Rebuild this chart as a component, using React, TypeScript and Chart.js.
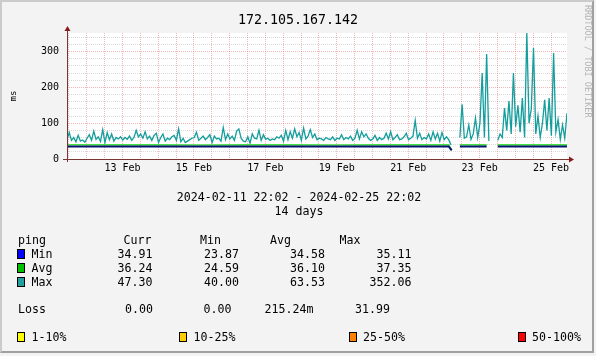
import React, { useEffect, useRef } from 'react';
import { Chart, registerables } from 'chart.js';

Chart.register(...registerables);

const MONO = '"DejaVu Sans Mono", monospace';
const TITLE = '172.105.167.142';
const Y_TITLE = 'ms';
const SPAN_HOURS = 336;
const STEP_HOURS = 1.5;
const Y_MAX = 352;

// Max ping (ms), one sample every 1.5 h from 2024-02-11 22:02; null = no data
const maxValues: (number | null)[] = [
  55, 74, 52, 60, 48, 66, 50, 53, 47, 58,
  68, 52, 78, 55, 62, 49, 82, 46, 74, 54,
  70, 50, 60, 56, 62, 53, 60, 55, 64, 52,
  60, 80, 62, 70, 58, 76, 56, 64, 52, 66,
  72, 46, 60, 70, 50, 58, 54, 62, 66, 52,
  84, 48, 58, 46, 50, 54, 58, 60, 75, 52,
  58, 64, 54, 60, 68, 46, 64, 56, 58, 50,
  88, 54, 70, 56, 64, 52, 78, 84, 58, 50,
  48, 62, 44, 70, 58, 56, 80, 52, 68, 55,
  58, 52, 56, 54, 62, 58, 66, 50, 80, 54,
  76, 58, 84, 62, 74, 52, 86, 56, 64, 82,
  60, 70, 54, 58, 56, 52, 60, 56, 54, 62,
  52, 58, 56, 68, 54, 60, 56, 64, 52, 58,
  80, 56, 76, 62, 70, 58, 52, 56, 66, 52,
  60, 54, 58, 72, 56, 76, 54, 60, 68, 54,
  56, 62, 72, 54, 58, 64, 108, 58, 72, 54,
  60, 56, 70, 52, 76, 56, 72, 50, 74, 54,
  62, 54, 40,
  null, null, null,
  60, 153, 58, 62, 95, 55, 70, 114, 60, 100, 240, 60, 293, 50,
  null, null, null,
  52, 70, 60, 142, 80, 162, 70, 240, 90, 150,
  75, 170, 60, 352, 100, 140, 310, 70, 120, 60,
  100, 165, 80, 170, 65, 296, 75, 110, 55, 95,
  58, 128,
];

const minHours = [0, 30, 60, 90, 120, 150, 180, 210, 240, 256.5, 258.5, 260, 264, 282, 283.5, 289.5, 336];
const minValues: (number | null)[] = [35.2, 35.0, 35.1, 34.9, 35.0, 35.1, 34.9, 35.0, 35.1, 35.0, 23.9, null, 35.2, 35.0, null, 35.1, 35.0];
const avgHours = [0, 30, 60, 90, 120, 150, 180, 210, 240, 256.5, 258.5, 260, 264, 282, 283.5, 289.5, 336];
const avgValues: (number | null)[] = [39.6, 39.4, 39.5, 39.3, 39.4, 39.5, 39.3, 39.4, 39.5, 39.6, 24.6, null, 39.7, 39.4, null, 39.5, 39.5];

// time axis: grid every 12 h, labels every 2 days
const FIRST_GRID_HOUR = 1.3;
const GRID_EVERY_HOURS = 12;
const tickLabels = ['13 Feb', '15 Feb', '17 Feb', '19 Feb', '21 Feb', '23 Feb', '25 Feb'];
const tickLabelHours = [37.3, 85.3, 133.3, 181.3, 229.3, 277.3, 325.3];

const Y_STEP = 20;
const Y_LABEL_EVERY = 100;

// legend table
const legendNames = ['Min', 'Avg', 'Max'];
const legendColors = ['#0000ff', '#00c000', '#20a0a0'];
const statCurr = ['34.91', '36.24', '47.30'];
const statMin = ['23.87', '24.59', '40.00'];
const statAvg = ['34.58', '36.10', '63.53'];
const statMax = ['35.11', '37.35', '352.06'];
const lossValues = ['0.00', '0.00', '215.24m', '31.99'];
const lossBands = ['1-10%', '10-25%', '25-50%', '50-100%'];
const lossBandColors = ['#ffff00', '#ffcc00', '#ff8000', '#ff0000'];

const MAX_LINE = '#139d9d';
const MIN_LINE = '#0a1470';
const AVG_LINE = '#44e044';
const MGRID = 'rgba(222,80,80,0.42)';
const GRID = 'rgba(140,140,140,0.32)';
const AXIS = '#7a3535';
const ARROW = '#8b1a1a';

const framePlugin = {
  id: 'rrdFrame',
  beforeDraw(chart: any) {
    const { ctx, chartArea: a } = chart;
    ctx.save();
    ctx.fillStyle = '#ffffff';
    ctx.fillRect(a.left, a.top, a.right - a.left, a.bottom - a.top);
    ctx.restore();
  },
  afterDatasetsDraw(chart: any) {
    const { ctx, chartArea: a } = chart;
    const y = Math.round(a.bottom) + 0.5;
    const x = Math.round(a.left) + 0.5;
    ctx.save();
    ctx.strokeStyle = AXIS;
    ctx.lineWidth = 1;
    ctx.beginPath();
    ctx.moveTo(a.left - 4, y);
    ctx.lineTo(a.right + 3, y);
    ctx.moveTo(x, a.bottom + 3);
    ctx.lineTo(x, a.top - 3);
    ctx.stroke();
    ctx.fillStyle = ARROW;
    ctx.beginPath();
    ctx.moveTo(a.right + 7, y);
    ctx.lineTo(a.right + 2, y - 3);
    ctx.lineTo(a.right + 2, y + 3);
    ctx.closePath();
    ctx.fill();
    ctx.beginPath();
    ctx.moveTo(x, a.top - 7);
    ctx.lineTo(x - 3, a.top - 2);
    ctx.lineTo(x + 3, a.top - 2);
    ctx.closePath();
    ctx.fill();
    ctx.restore();
  },
};

const FS = 11.6;

function Txt(props: { x: number; y: number; right?: boolean; children: any; size?: number }) {
  const { x, y, right, children, size } = props;
  const style: any = {
    position: 'absolute',
    top: y - 7,
    height: 14,
    lineHeight: '14px',
    fontSize: size || FS,
    whiteSpace: 'pre',
    color: '#000',
  };
  if (right) {
    style.right = 596 - x;
    style.textAlign = 'right';
  } else {
    style.left = x;
  }
  return <div style={style}>{children}</div>;
}

function Swatch(props: { x: number; y: number; color: string }) {
  return (
    <div
      style={{
        position: 'absolute',
        left: props.x,
        top: props.y - 5,
        width: 8,
        height: 10,
        boxSizing: 'border-box',
        border: '1px solid #000',
        background: props.color,
      }}
    />
  );
}

export default function App() {
  const ref = useRef<HTMLCanvasElement>(null);

  useEffect(() => {
    document.body.style.margin = '0';
    const canvas = ref.current;
    if (!canvas) return;
    const gridHours: number[] = [];
    for (let h = FIRST_GRID_HOUR; h < SPAN_HOURS; h += GRID_EVERY_HOURS) gridHours.push(h);

    const chart = new Chart(canvas, {
      type: 'line',
      data: {
        datasets: [
          {
            label: 'Max',
            data: maxValues.map((v, i) => ({ x: i * STEP_HOURS, y: v })) as any,
            borderColor: MAX_LINE,
            borderWidth: 1.3,
            pointRadius: 0,
            tension: 0,
            spanGaps: false,
            order: 3,
          },
          {
            label: 'Avg',
            data: avgValues.map((v, i) => ({ x: avgHours[i], y: v })) as any,
            borderColor: AVG_LINE,
            borderWidth: 1.6,
            pointRadius: 0,
            tension: 0,
            spanGaps: false,
            order: 2,
          },
          {
            label: 'Min',
            data: minValues.map((v, i) => ({ x: minHours[i], y: v })) as any,
            borderColor: MIN_LINE,
            borderWidth: 2,
            pointRadius: 0,
            tension: 0,
            spanGaps: false,
            order: 1,
          },
        ],
      },
      options: {
        responsive: false,
        animation: false,
        layout: { padding: 0 },
        plugins: {
          legend: { display: false },
          tooltip: { enabled: false },
          title: {
            display: true,
            text: TITLE,
            color: '#000',
            font: { family: MONO, size: 13.3, weight: 'normal' as any },
            padding: { top: 13, bottom: 4 },
          },
        },
        scales: {
          x: {
            type: 'linear',
            min: 0,
            max: SPAN_HOURS,
            afterFit: (s: any) => {
              s.height = 197;
            },
            afterBuildTicks: (s: any) => {
              s.ticks = gridHours.map((value) => ({ value }));
            },
            ticks: {
              autoSkip: false,
              maxRotation: 0,
              padding: 3,
              color: '#000',
              font: { family: MONO, size: 10 },
              callback: (value: any) => {
                const idx = tickLabelHours.findIndex((h) => Math.abs(h - Number(value)) < 0.01);
                return idx >= 0 ? tickLabels[idx] : '';
              },
            },
            grid: { color: MGRID, drawTicks: false, lineWidth: 1 },
            border: { display: false, dash: [1, 1] },
          },
          y: {
            type: 'linear',
            min: 0,
            max: Y_MAX,
            afterFit: (s: any) => {
              s.width = 67;
            },
            ticks: {
              stepSize: Y_STEP,
              includeBounds: false,
              autoSkip: false,
              padding: 8,
              color: '#000',
              font: { family: MONO, size: 10 },
              callback: (v: any) => (Number(v) % Y_LABEL_EVERY === 0 ? String(v) : ''),
            },
            grid: {
              color: (c: any) => (c.tick && c.tick.value % Y_LABEL_EVERY === 0 ? MGRID : GRID),
              drawTicks: false,
              lineWidth: 1,
            },
            border: { display: false, dash: [1, 1] },
            title: {
              display: true,
              text: Y_TITLE,
              color: '#000',
              font: { family: MONO, size: 9 },
              padding: { top: 8, bottom: 0 },
            },
          },
          y2: {
            type: 'linear',
            position: 'right',
            afterFit: (s: any) => {
              s.width = 29;
            },
            ticks: { display: false },
            grid: { display: false },
            border: { display: false },
          },
        },
      },
      plugins: [framePlugin],
    });
    return () => chart.destroy();
  }, []);

  const rowY = [254, 268, 282];
  const valueEnds = [152.5, 239, 325, 411.5];

  return (
    <div style={{ position: 'relative', width: 596, height: 356, background: '#f3f3f3', fontFamily: MONO }}>
      <div
        style={{
          position: 'absolute',
          left: 0,
          top: 0,
          width: 594,
          height: 353,
          boxSizing: 'border-box',
          background: '#f3f3f3',
          borderTop: '2px solid #cbcbcb',
          borderLeft: '2px solid #cbcbcb',
          borderRight: '2px solid #a0a0a0',
          borderBottom: '2px solid #a0a0a0',
        }}
      />
      <canvas ref={ref} width={596} height={356} style={{ position: 'absolute', left: 0, top: 0 }} />
      <div
        style={{
          position: 'absolute',
          left: 583,
          top: 5,
          writingMode: 'vertical-rl',
          fontSize: 8.5,
          lineHeight: '10px',
          color: '#b4b4b4',
          whiteSpace: 'pre',
        }}
      >
        RRDTOOL / TOBI OETIKER
      </div>
      <div style={{ position: 'absolute', left: 0, width: 598, top: 190, lineHeight: '14px', fontSize: FS, textAlign: 'center', color: '#000', whiteSpace: 'pre' }}>
        2024-02-11 22:02 - 2024-02-25 22:02
      </div>
      <div style={{ position: 'absolute', left: 0, width: 598, top: 204, lineHeight: '14px', fontSize: FS, textAlign: 'center', color: '#000', whiteSpace: 'pre' }}>
        14 days
      </div>

      <Txt x={18} y={240}>ping</Txt>
      <Txt x={123.5} y={240}>Curr</Txt>
      <Txt x={200} y={240}>Min</Txt>
      <Txt x={270} y={240}>Avg</Txt>
      <Txt x={339.5} y={240}>Max</Txt>

      {legendNames.map((n, i) => (
        <React.Fragment key={n}>
          <Swatch x={17} y={rowY[i]} color={legendColors[i]} />
          <Txt x={31.5} y={rowY[i]}>{n}</Txt>
          <Txt x={valueEnds[0]} y={rowY[i]} right>{statCurr[i]}</Txt>
          <Txt x={valueEnds[1]} y={rowY[i]} right>{statMin[i]}</Txt>
          <Txt x={valueEnds[2]} y={rowY[i]} right>{statAvg[i]}</Txt>
          <Txt x={valueEnds[3]} y={rowY[i]} right>{statMax[i]}</Txt>
        </React.Fragment>
      ))}

      <Txt x={18} y={309}>Loss</Txt>
      <Txt x={125} y={309}>{lossValues[0]}</Txt>
      <Txt x={203.5} y={309}>{lossValues[1]}</Txt>
      <Txt x={264.5} y={309}>{lossValues[2]}</Txt>
      <Txt x={355} y={309}>{lossValues[3]}</Txt>

      {lossBands.map((b, i) => {
        const sx = [17, 179, 348.5, 517.5][i];
        return (
          <React.Fragment key={b}>
            <Swatch x={sx} y={337} color={lossBandColors[i]} />
            <Txt x={sx + 14.5} y={337}>{b}</Txt>
          </React.Fragment>
        );
      })}
    </div>
  );
}
